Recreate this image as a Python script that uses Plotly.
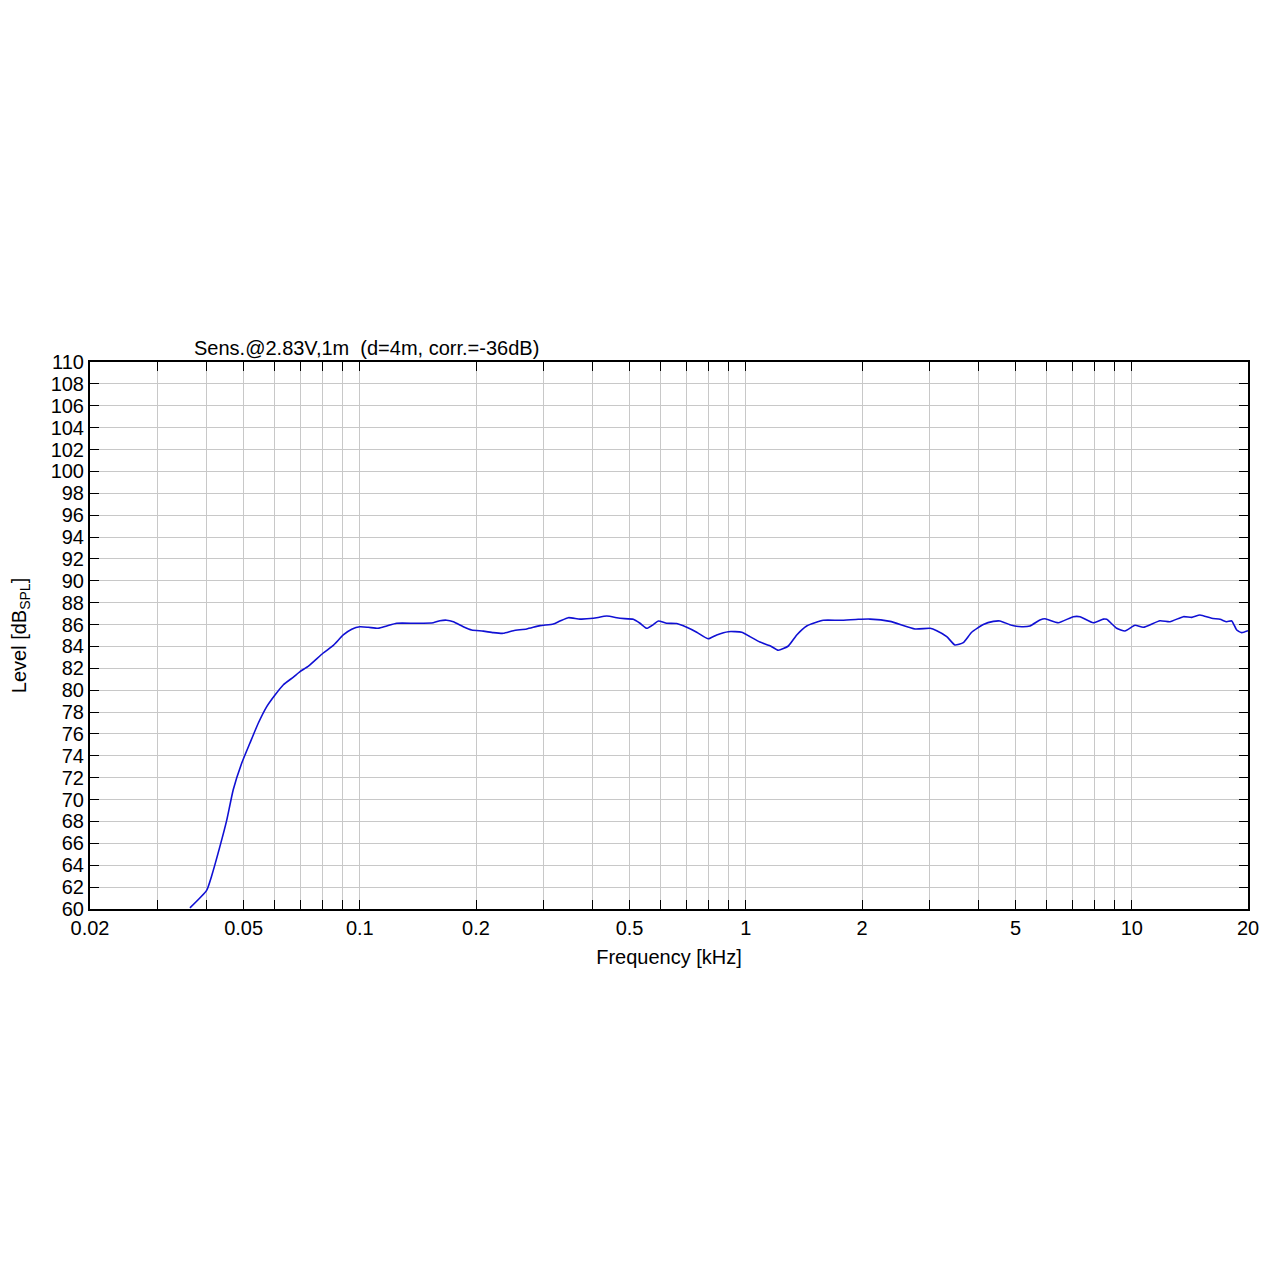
import plotly.graph_objects as go

# Frequency response (kHz, dB SPL)
freq_khz = [
    0.0363, 0.0401, 0.0413, 0.0434, 0.0452, 0.0470, 0.0494, 0.0519, 0.0546, 0.0574,
    0.0603, 0.0634, 0.0673, 0.0700, 0.0736, 0.0804, 0.0854, 0.0906, 0.0953, 0.1000,
    0.1052, 0.1116, 0.1174, 0.1246, 0.1404, 0.1550, 0.1613, 0.1679, 0.1747, 0.1854,
    0.1949, 0.2089, 0.2218, 0.2354, 0.2500, 0.2706, 0.2930, 0.3172, 0.3302, 0.3470,
    0.3720, 0.4027, 0.4363, 0.4722, 0.5112, 0.5320, 0.5538, 0.5760, 0.5936, 0.6238,
    0.6622, 0.7030, 0.7462, 0.7996, 0.8408, 0.9008, 0.9756, 1.025, 1.088, 1.155,
    1.214, 1.289, 1.355, 1.438, 1.588, 1.754, 1.956, 2.098, 2.364, 2.744,
    3.002, 3.124, 3.316, 3.482, 3.660, 3.848, 4.124, 4.378, 4.556, 4.884,
    5.184, 5.448, 5.782, 5.958, 6.452, 7.054, 7.342, 7.948, 8.436, 8.610,
    9.136, 9.600, 10.19, 10.71, 11.83, 12.56, 13.60, 14.30, 15.02, 16.10,
    16.93, 17.61, 18.15, 18.70, 19.26, 20.0,
]
level_db = [
    60.1, 61.7, 63.0, 65.7, 68.1, 70.9, 73.3, 75.15, 77.0, 78.5,
    79.56, 80.5, 81.2, 81.7, 82.2, 83.4, 84.1, 85.05, 85.57, 85.8,
    85.75, 85.66, 85.87, 86.12, 86.12, 86.17, 86.35, 86.4, 86.26, 85.8,
    85.5, 85.4, 85.26, 85.2, 85.44, 85.6, 85.9, 86.05, 86.33, 86.63,
    86.5, 86.57, 86.78, 86.57, 86.48, 86.12, 85.66, 86.0, 86.33, 86.12,
    86.09, 85.75, 85.3, 84.7, 85.05, 85.35, 85.3, 84.9, 84.4, 84.07,
    83.65, 84.04, 85.05, 85.87, 86.39, 86.39, 86.48, 86.5, 86.29, 85.6,
    85.66, 85.44, 84.9, 84.13, 84.35, 85.3, 86.0, 86.29, 86.33, 85.93,
    85.8, 85.87, 86.42, 86.53, 86.17, 86.72, 86.72, 86.17, 86.5, 86.48,
    85.66, 85.41, 85.93, 85.75, 86.35, 86.26, 86.72, 86.66, 86.87, 86.57,
    86.48, 86.26, 86.33, 85.5, 85.26, 85.44,
]

x_major_vals = [0.02, 0.05, 0.1, 0.2, 0.5, 1, 2, 5, 10, 20]
x_major_text = ["0.02", "0.05", "0.1", "0.2", "0.5", "1", "2", "5", "10", "20"]
x_minor_vals = [0.03, 0.04, 0.06, 0.07, 0.08, 0.09,
                0.3, 0.4, 0.6, 0.7, 0.8, 0.9,
                3, 4, 6, 7, 8, 9]
y_tick_vals = list(range(60, 111, 2))

title_text = "Sens.@2.83V,1m  (d=4m, corr.=-36dB)"

fig = go.Figure()
fig.add_trace(go.Scatter(
    x=freq_khz, y=level_db, mode="lines",
    line=dict(color="#1010d4", width=1.6, shape="spline", smoothing=0.5),
    showlegend=False, hoverinfo="skip",
))

font_family = "Liberation Sans, Arial, sans-serif"
fig.update_layout(
    width=1280, height=1280,
    margin=dict(l=82, r=40, t=354, b=379),
    paper_bgcolor="white", plot_bgcolor="white",
    font=dict(family=font_family, size=20, color="black"),
    xaxis=dict(
        type="log", range=[-1.69897, 1.30103],
        tickvals=x_major_vals, ticktext=x_major_text,
        ticks="inside", ticklen=9, tickwidth=1.3, tickcolor="black",
        minor=dict(tickvals=x_minor_vals, ticks="inside", ticklen=9,
                   tickwidth=1.3, tickcolor="black",
                   showgrid=True, gridcolor="#c8c8c8", gridwidth=1),
        showgrid=True, gridcolor="#c8c8c8", gridwidth=1,
        showline=True, linecolor="black", linewidth=2, mirror="ticks",
        zeroline=False, automargin=False,
        title=dict(text="Frequency [kHz]", font=dict(size=20), standoff=12),
        tickfont=dict(size=20),
    ),
    yaxis=dict(
        range=[60, 110],
        tickvals=y_tick_vals,
        ticks="inside", ticklen=9, tickwidth=1.3, tickcolor="black",
        showgrid=True, gridcolor="#c8c8c8", gridwidth=1,
        showline=True, linecolor="black", linewidth=2, mirror="ticks",
        zeroline=False, automargin=False,
        title=dict(text="Level [dB<sub>SPL</sub>]", font=dict(size=20), standoff=20),
        tickfont=dict(size=20),
    ),
    annotations=[dict(
        text=title_text, xref="paper", yref="paper",
        x=0.088, y=1.0, xanchor="left", yanchor="bottom", yshift=1,
        showarrow=False, font=dict(size=20),
    )],
)

fig.write_html("out.html")
